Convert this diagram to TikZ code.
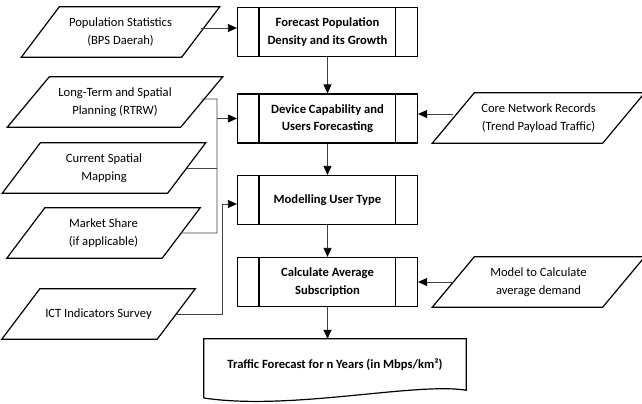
\documentclass[tikz,border=0pt]{standalone}
\usepackage{fontspec}
\setmainfont{Carlito}
\usetikzlibrary{arrows.meta,calc}
\newcommand\fs{\fontsize{12.6bp}{17.5bp}\selectfont}
\newcommand\paraoutline[2]{\draw[paraline] ($(#1.north west)+(#2,0)$) -- ($(#1.north east)+(#2,0)$) -- ($(#1.south east)-(#2,0)$) -- ($(#1.south west)-(#2,0)$) -- cycle;}
\newcommand\procbars[1]{\draw[paraline] ([xshift=22bp]#1.north west) -- ([xshift=22bp]#1.south west);
  \draw[paraline] ([xshift=-23bp]#1.north east) -- ([xshift=-23bp]#1.south east);}
\begin{document}
\begin{tikzpicture}[x=1bp,y=-1bp,
  proc/.style={draw, line width=1.2bp, minimum width=180bp, minimum height=49bp, inner sep=0pt, font=\bfseries\fs, align=center},
  para/.style={minimum height=50bp, inner sep=0pt, font=\fs, align=center},
  paraline/.style={line width=1.2bp, line join=miter},
  conn/.style={draw=black!75, line width=0.7bp},
  arr/.style={conn, -{Triangle[length=9bp,width=8bp,color=black]}}
]
\useasboundingbox (0,0) rectangle (642,403);

% process boxes
\node[proc] (b1) at (327.5,32) {Forecast Population\\Density and its Growth};
\node[proc] (b2) at (327.5,118.5) {Device Capability and\\Users Forecasting};
\node[proc] (b3) at (327.5,200) {Modelling User Type};
\node[proc] (b4) at (327.5,282) {Calculate Average\\Subscription};
\procbars{b1}\procbars{b2}\procbars{b3}\procbars{b4}

% document
\node[minimum width=262bp, minimum height=51bp, inner sep=0pt, font=\bfseries\fs] (doc) at (335,364.5) {\raisebox{2bp}{Traffic Forecast for n Years (in Mbps/km²)}};
\draw[paraline] (doc.south west|-0,398) -- (doc.north west) -- (doc.north east) -- (doc.south east)
  .. controls (415,382) and (290,411) .. (204,398);

% parallelograms
\node[para, minimum width=160bp] (p1) at (120.5,32) {Population Statistics\\(BPS Daerah)};
\node[para, minimum width=173bp] (p2) at (115,102) {Long-Term and Spatial\\Planning (RTRW)};
\node[para, minimum width=165bp] (p3) at (104,168) {Current Spatial\\Mapping};
\node[para, minimum width=155bp] (p4) at (103.5,233) {Market Share\\(if applicable)};
\node[para, minimum width=155bp] (p5) at (98.5,314) {ICT Indicators Survey};
\node[para, minimum width=170bp] (p6) at (538.5,118) {Core Network Records\\(Trend Payload Traffic)};
\node[para, minimum width=170bp] (p7) at (538.5,282) {Model to Calculate\\average demand};
\paraoutline{p1}{19bp}
\paraoutline{p2}{21bp}
\paraoutline{p3}{19bp}
\paraoutline{p4}{19bp}
\paraoutline{p5}{19bp}
\paraoutline{p6}{21bp}
\paraoutline{p7}{21bp}

% buses
\coordinate (bus1) at (217,99);
\coordinate (bus2) at (222,204);

% connectors
\draw[arr] ([yshift=4bp]p1.east) -- ([yshift=4bp]b1.west);
\draw[arr] (b1) -- (b2);
\draw[arr] (b2) -- (b3);
\draw[arr] (b3) -- (b4);
\draw[arr] (b4.south) -- (b4.south |- doc.north);
\draw[conn] ([yshift=3bp]p2.east) -- (bus1) -- (p4.east -| bus1) -- (p4.east);
\draw[conn] (p3.east) -- (p3.east -| bus1);
\draw[arr] (b2.west -| bus1) -- (b2.west);
\draw[conn] (p5.east) -| (bus2);
\draw[arr] (bus2) -- (bus2 -| b3.west);
\draw[arr] ([yshift=4bp]p6.west) -- ([yshift=4bp]p6.west -| b2.east);
\draw[arr] (p7.west) -- (p7.west -| b4.east);
\end{tikzpicture}
\end{document}
